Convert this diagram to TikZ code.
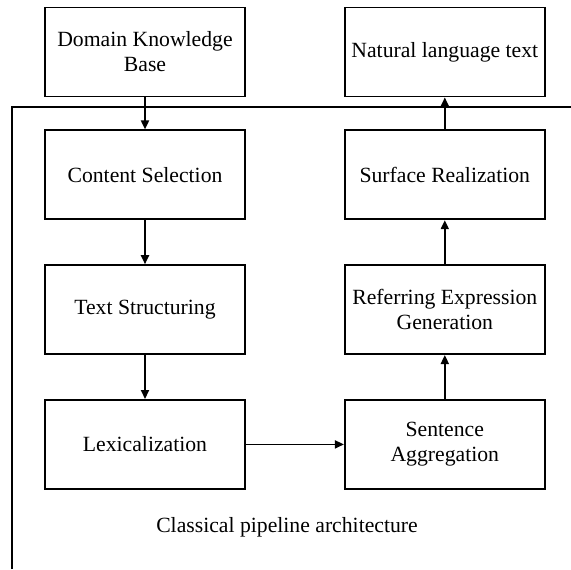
\documentclass[tikz,border=0pt]{standalone}
\usepackage{fontspec}
\setmainfont{Liberation Serif}
\usetikzlibrary{arrows.meta,positioning}

\begin{document}
\begin{tikzpicture}[node distance=22pt,>={Triangle[width=4pt,length=4.5pt]},line width=0.9pt,
  box/.style={draw,minimum width=100pt,minimum height=44.5pt,align=center,inner sep=1pt,font=\fontsize{10.85}{12.5}\selectfont}]
\useasboundingbox (0,0) rectangle (285.5pt,-284.5pt);
% left column
\node[box] (dkb) at (72.5pt,-26pt) {Domain Knowledge\\Base};
\node[box,below=16pt of dkb] (cs) {Content Selection};
\node[box,below=of cs] (ts) {Text Structuring};
\node[box,below=of ts] (lex) {Lexicalization};
% right column
\node[box,right=49pt of lex] (sa) {Sentence\\Aggregation};
\node[box,above=of sa] (reg) {Referring Expression\\Generation};
\node[box,above=of reg] (sr) {Surface Realization};
\node[box,above=16pt of sr] (nlt) {Natural language text};
% pipeline frame
\coordinate (fl) at (6pt,-53.5pt);
\coordinate (fr) at (285.5pt,-53.5pt);
\coordinate (fb) at (6pt,-284.5pt);
\draw (fb) |- (fr);
\node[font=\fontsize{10.85}{12.5}\selectfont] (cap) at (143.5pt,-263.5pt) {Classical pipeline architecture};
\draw[->] (dkb)--(cs);\draw[->] (cs)--(ts);\draw[->] (ts)--(lex);
\draw[->] (lex)--(sa);
\draw[->] (sa)--(reg);\draw[->] (reg)--(sr);\draw[->] (sr)--(nlt);
\end{tikzpicture}
\end{document}
